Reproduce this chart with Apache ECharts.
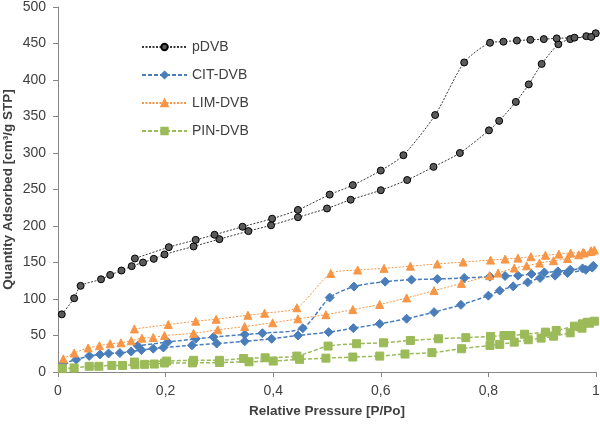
<!DOCTYPE html>
<html>
<head>
<meta charset="utf-8">
<script src="https://cdn.jsdelivr.net/npm/echarts@6/dist/echarts.min.js"></script>
<style>html,body{margin:0;padding:0;background:#fff}#c{width:600px;height:424px}</style>
</head>
<body>
<div id="c"></div>
<script>
var seriesNames = ['pDVB', 'CIT-DVB', 'LIM-DVB', 'PIN-DVB'];
var xTicks = ['0', '0,2', '0,4', '0,6', '0,8', '1'];

// pDVB
var pdvbAdsP = [0.007,0.030,0.042,0.080,0.097,0.118,0.137,0.158,0.178,0.198,0.252,0.300,0.354,0.396,0.446,0.500,0.544,0.600,0.649,0.698,0.747,0.801,0.820,0.851,0.875,0.899,0.930,0.952,0.982,0.9995];
var pdvbAdsQ = [79,101,118,127,133,139,145,150,155,161,172,182,193,201,212,224,236,249,263,281,300,331,344,370,394,422,449,456,460,464];
var pdvbDesP = [0.991,0.960,0.927,0.903,0.878,0.853,0.828,0.803,0.755,0.701,0.642,0.600,0.548,0.505,0.446,0.398,0.343,0.291,0.256,0.206,0.143];
var pdvbDesQ = [459,458,457,456,455,454,452.5,451,424,352,297,276,256,243,222,210,199,188,181,171,155.5];

// CIT-DVB
var citAdsP = [0.010,0.034,0.058,0.078,0.094,0.115,0.136,0.155,0.177,0.196,0.249,0.295,0.347,0.397,0.446,0.503,0.549,0.598,0.648,0.699,0.749,0.800,0.821,0.846,0.873,0.896,0.924,0.947,0.981,0.993];
var citAdsQ = [12,17,22,24,25.5,26,28,30,32,33.5,36.5,39,42,45.5,50,54.6,60,66,73,82,92,104.6,111.5,117.3,122.8,128.8,132,135.6,140,143];
var citDesP = [0.995,0.975,0.952,0.929,0.904,0.880,0.855,0.831,0.803,0.755,0.705,0.657,0.608,0.550,0.505,0.455,0.380,0.347,0.289,0.256,0.204,0.148];
var citDesQ = [145.5,141.9,140,137.8,136.4,134.2,132,131.5,130.6,128.8,127.4,126.5,123.7,117,102,60,53.2,51.4,47.8,45.5,41,36];

// LIM-DVB
var limAdsP = [0.010,0.030,0.056,0.077,0.097,0.117,0.136,0.156,0.177,0.198,0.252,0.297,0.347,0.399,0.446,0.498,0.548,0.598,0.648,0.699,0.750,0.802,0.818,0.848,0.871,0.895,0.921,0.947,0.968,0.978,0.990];
var limAdsQ = [18,26,33,36,38.7,40,42.8,46.4,47.3,50,53,57.8,62.3,67.4,72.8,78.5,85.5,92.5,101.5,111.5,121.4,132,135.6,142.4,145.5,149.2,152.4,155.5,160.6,163,165];
var limDesP = [0.997,0.991,0.976,0.953,0.931,0.906,0.879,0.855,0.831,0.804,0.753,0.705,0.655,0.606,0.557,0.507,0.444,0.384,0.353,0.294,0.256,0.205,0.142];
var limDesQ = [167,166,163.7,163,161.5,160,158,156,154.7,153.3,150.6,148,145,142,139.7,135,88,80.5,77.8,72.3,69.6,65,59];

// PIN-DVB
var pinAdsP = [0.008,0.030,0.058,0.076,0.100,0.120,0.143,0.161,0.179,0.198,0.250,0.300,0.355,0.400,0.449,0.498,0.548,0.598,0.645,0.695,0.750,0.803,0.821,0.848,0.874,0.898,0.921,0.952,0.974,0.988];
var pinAdsQ = [4.6,5.5,7.8,7.8,9,9,10,10.5,10.9,12.3,12.5,13,14,15,17.3,19,20.5,21.8,24.6,26.5,31.9,36.4,37.8,40.9,44.2,46.4,49.1,53.7,60,66.8];
var pinDesP = [0.997,0.984,0.975,0.960,0.926,0.906,0.867,0.842,0.829,0.804,0.758,0.707,0.655,0.605,0.555,0.502,0.444,0.385,0.345,0.300,0.252,0.202,0.142];
var pinDesQ = [69.6,68.2,66,62.8,56.9,54.6,51.8,50,50,48.7,47,45.5,43.2,40,38.7,35.5,21.8,19.5,18.5,16,16,15,13.6];

function pairs(px, qy) { return px.map(function (p, i) { return [p, qy[i]]; }); }
function loop(aP, aQ, dP, dQ) { return pairs(aP, aQ).concat(pairs(dP, dQ)); }

var chart = echarts.init(document.getElementById('c'), null, {renderer: 'canvas'});
var font = 'Liberation Sans, Arial, sans-serif';
function mk(name, data, color, symbol, size, lineType, lineWidth, fill, border) {
  return {
    name: name, type: 'line', data: data, smooth: 0.25,
    symbol: symbol, symbolSize: size, showSymbol: true,
    lineStyle: {color: color, width: lineWidth, type: lineType},
    itemStyle: {color: fill, borderColor: border, borderWidth: 1},
    emphasis: {disabled: true}, animation: false
  };
}
chart.setOption({
  animation: false,
  grid: {left: 58, right: 4, top: 7, bottom: 52, containLabel: false, outerBoundsMode: 'none'},
  legend: {
    orient: 'vertical', left: 136, top: 35, itemWidth: 45, itemHeight: 8, itemGap: 14,
    textStyle: {fontFamily: font, fontSize: 14, color: '#404040'},
    data: seriesNames
  },
  xAxis: {
    type: 'value', min: 0, max: 1, interval: 0.2,
    name: 'Relative Pressure [P/Po]', nameLocation: 'middle', nameGap: 32, nameMoveOverlap: false,
    nameTextStyle: {fontFamily: font, fontSize: 13.5, fontWeight: 'bold', color: '#404040'},
    axisLine: {lineStyle: {color: '#868686', width: 1}},
    axisTick: {show: true, inside: false, length: 5, lineStyle: {color: '#868686'}},
    axisLabel: {fontFamily: font, fontSize: 14, color: '#404040', margin: 12,
      formatter: function (v) { return xTicks[Math.round(v / 0.2)]; }},
    splitLine: {show: false}
  },
  yAxis: {
    type: 'value', min: 0, max: 500, interval: 50,
    name: 'Quantity Adsorbed [cm\u00b3/g STP]', nameLocation: 'middle', nameGap: 43, nameMoveOverlap: false,
    nameTextStyle: {fontFamily: font, fontSize: 13.5, fontWeight: 'bold', color: '#404040'},
    axisLine: {show: true, lineStyle: {color: '#868686', width: 1}},
    axisTick: {show: true, inside: false, length: 5, lineStyle: {color: '#868686'}},
    axisLabel: {fontFamily: font, fontSize: 14, color: '#404040', margin: 12},
    splitLine: {show: false}
  },
  series: [
    mk('pDVB', loop(pdvbAdsP, pdvbAdsQ, pdvbDesP, pdvbDesQ), '#3a3a3a', 'circle', 7, [2, 1.5], 1, '#5a5a5a', '#000000'),
    mk('CIT-DVB', loop(citAdsP, citAdsQ, citDesP, citDesQ), '#4a7ebb', 'diamond', 9, [4, 2], 1.5, '#4a7ebb', '#4a7ebb'),
    mk('LIM-DVB', loop(limAdsP, limAdsQ, limDesP, limDesQ), '#f79646', 'triangle', 8, [2, 1.5], 1, '#f79646', '#f79646'),
    mk('PIN-DVB', loop(pinAdsP, pinAdsQ, pinDesP, pinDesQ), '#9bbb59', 'rect', 8, [4, 2], 1.5, '#9bbb59', '#9bbb59')
  ]
});
</script>
</body>
</html>
